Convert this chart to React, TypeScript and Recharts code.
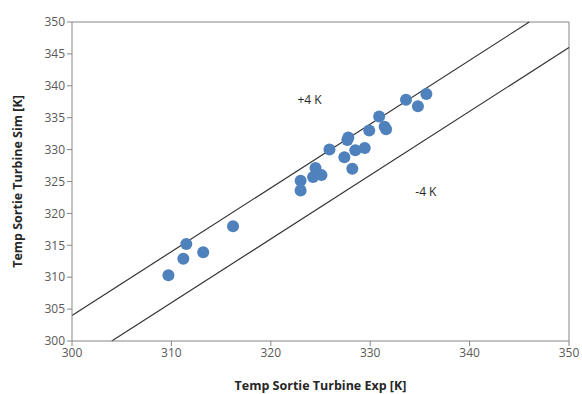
/* ── Temp Sortie Turbine: Sim vs Exp scatter ── */

import { ScatterChart, Scatter, XAxis, YAxis, ReferenceLine, ReferenceDot } from "recharts";

const expTemps = [
  309.7, 311.2, 311.5, 313.2, 316.2, 323.0, 323.0, 324.5, 324.25, 325.1, 325.9,
  327.7, 327.8, 327.4, 328.2, 328.5, 329.45, 329.9, 330.9, 331.6, 331.45, 333.6, 334.8, 335.65,
];
const simTemps = [
  310.3, 312.9, 315.2, 313.9, 318.0, 325.1, 323.6, 327.1, 325.7, 326.0, 330.0,
  331.5, 331.9, 328.8, 327.0, 329.9, 330.25, 333.0, 335.2, 333.2, 333.6, 337.8, 336.8, 338.7,
];

const xTicks = [300, 310, 320, 330, 340, 350];
const yTicks = [300, 305, 310, 315, 320, 325, 330, 335, 340, 345, 350];

// tolerance band: y = x + offset
const bandOffsets = [4, -4];
const bandLabels = ["+4 K", "-4 K"];
const bandLabelX = [323.9, 335.6];
const bandLabelY = [337.8, 323.4];

const AXIS = "#868686";
const FONT = "'Open Sans', sans-serif";

const points = expTemps.map((x, i) => ({ x, y: simTemps[i] }));

function segmentFor(offset: number) {
  const lo = 300, hi = 350;
  const x0 = Math.max(lo, lo - offset);
  const x1 = Math.min(hi, hi - offset);
  return [
    { x: x0, y: x0 + offset },
    { x: x1, y: x1 + offset },
  ];
}

export default function App() {
  return (
    <div style={{ width: 582, height: 394, fontFamily: FONT }}>
      <style>{"body{margin:0}"}</style>
      <ScatterChart width={582} height={394} margin={{ top: 22, right: 13, bottom: 0, left: 12 }}>
        <XAxis
          type="number"
          dataKey="x"
          domain={[300, 350]}
          ticks={xTicks}
          height={53}
          stroke={AXIS}
          tickSize={5}
          tick={{ fontSize: 12, fill: "#595959", fontFamily: FONT }}
          label={{
            value: "Temp Sortie Turbine Exp [K]",
            position: "insideBottom",
            offset: 4,
            style: { fontSize: 12.5, fontWeight: 700, fill: "#262626", fontFamily: FONT },
          }}
        />
        <YAxis
          type="number"
          dataKey="y"
          domain={[300, 350]}
          ticks={yTicks}
          width={60}
          stroke={AXIS}
          tickSize={5}
          tick={{ fontSize: 12, fill: "#595959", fontFamily: FONT }}
          label={{
            value: "Temp Sortie Turbine Sim [K]",
            angle: -90,
            position: "insideLeft",
            offset: 6,
            style: { fontSize: 12.5, fontWeight: 700, fill: "#262626", fontFamily: FONT, textAnchor: "middle" },
          }}
        />
        {/* plot area frame */}
        <ReferenceLine y={350} stroke={AXIS} />
        <ReferenceLine x={350} stroke={AXIS} />
        {bandOffsets.map((off) => (
          <ReferenceLine key={off} segment={segmentFor(off)} stroke="#333" strokeWidth={1.2} />
        ))}
        {bandLabels.map((txt, i) => (
          <ReferenceDot
            key={txt}
            x={bandLabelX[i]}
            y={bandLabelY[i]}
            r={0}
            stroke="none"
            fill="none"
            label={{ value: txt, position: "center", fontSize: 12, fill: "#262626", fontFamily: FONT }}
          />
        ))}
        <Scatter data={points} fill="#4F81BD" isAnimationActive={false} shape={(p: any) => (
          <circle cx={p.cx} cy={p.cy} r={6} fill="#4F81BD" />
        )} />
      </ScatterChart>
    </div>
  );
}
